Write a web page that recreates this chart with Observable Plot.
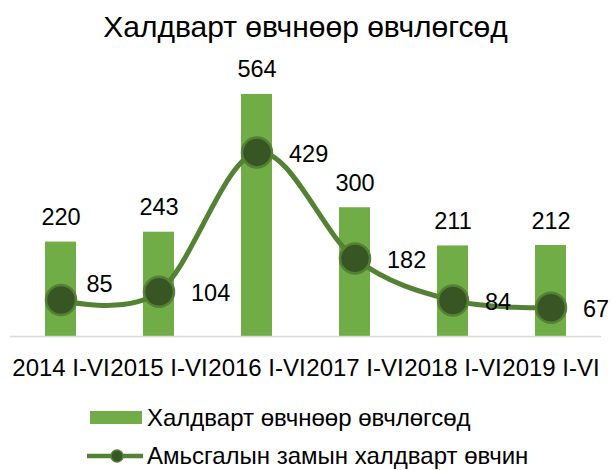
<!DOCTYPE html>
<html>
<head>
<meta charset="utf-8">
<script src="https://cdn.jsdelivr.net/npm/d3@7"></script>
<script src="https://cdn.jsdelivr.net/npm/@observablehq/plot@0.6"></script>
<style>
  html, body { margin: 0; padding: 0; background: #fff; }
  body { width: 611px; font-family: "Liberation Sans", Arial, sans-serif; color: #000; }
  #title { height: 54px; line-height: 54px; font-size: 30px; text-align: center; white-space: nowrap; }
  #chart svg { display: block; overflow: visible; }
  #legend { padding-top: 11px; padding-left: 87px; }
  .row { height: 43px; display: flex; align-items: center; }
  .row.last { height: 33px; }
  .row svg { display: block; flex: none; }
  .row span { font-size: 24px; line-height: 1; margin-left: 4px; white-space: nowrap; }
</style>
</head>
<body>
<div id="title">Халдварт өвчнөөр өвчлөгсөд</div>
<div id="chart"></div>
<div id="legend"></div>
<script>
const categories = ["2014 I-VI", "2015 I-VI", "2016 I-VI", "2017 I-VI", "2018 I-VI", "2019 I-VI"];
const infectedValues = [220, 243, 564, 300, 211, 212];
const respiratoryValues = [85, 104, 429, 182, 84, 67];
const seriesNames = ["Халдварт өвчнөөр өвчлөгсөд", "Амьсгалын замын халдварт өвчин"];

const barColor = "#70ad47";
const lineColor = "#548235";
const markerFill = "#375623";

const data = categories.map((c, i) => ({cat: c, a: infectedValues[i], b: respiratoryValues[i]}));

const chart = Plot.plot({
  width: 611,
  height: 331,
  marginTop: 24.5,
  marginBottom: 49,
  marginLeft: 10,
  marginRight: 10,
  style: {fontFamily: "'Liberation Sans', Arial, sans-serif", fontSize: "23.5px", color: "#000", background: "#fff"},
  x: {domain: categories, paddingInner: 0.685, paddingOuter: 0.3425, label: null, axis: null},
  y: {domain: [0, 600], axis: null},
  marks: [
    Plot.barY(data, {x: "cat", y: "a", fill: barColor}),
    Plot.ruleY([0], {stroke: "#d9d9d9", strokeWidth: 1.5}),
    Plot.line(data, {x: "cat", y: "b", stroke: lineColor, strokeWidth: 5, curve: "cardinal"}),
    Plot.dot(data, {x: "cat", y: "b", r: 15, fill: markerFill, stroke: lineColor, strokeWidth: 2.5}),
    Plot.text(data, {x: "cat", y: "a", text: d => String(d.a), dy: -24.5, fontSize: 23.5, fill: "#000"}),
    Plot.text(data.slice(1), {x: "cat", y: "b", text: d => String(d.b), textAnchor: "start", dx: 32, dy: 2, fontSize: 23.5, fill: "#000"}),
    Plot.text(data.slice(0, 1), {x: "cat", y: "b", text: d => String(d.b), textAnchor: "start", dx: 25.5, dy: -16, fontSize: 23.5, fill: "#000"}),
    Plot.axisX({tickSize: 0, tickPadding: 22, fontSize: 24, label: null, fill: "#000"})
  ]
});
document.getElementById("chart").appendChild(chart);

// Legend
const legend = d3.select("#legend");
const r1 = legend.append("div").attr("class", "row");
const s1 = r1.append("svg").attr("width", 56).attr("height", 13);
s1.append("rect").attr("x", 3).attr("y", 0).attr("width", 52).attr("height", 13).attr("fill", barColor);
r1.append("span").text(seriesNames[0]);

const r2 = legend.append("div").attr("class", "row last");
const s2 = r2.append("svg").attr("width", 56).attr("height", 16);
s2.append("line").attr("x1", 0).attr("x2", 56).attr("y1", 8).attr("y2", 8).attr("stroke", lineColor).attr("stroke-width", 4.5);
s2.append("circle").attr("cx", 30).attr("cy", 8).attr("r", 6).attr("fill", markerFill).attr("stroke", lineColor).attr("stroke-width", 1.5);
r2.append("span").text(seriesNames[1]);
</script>
</body>
</html>
